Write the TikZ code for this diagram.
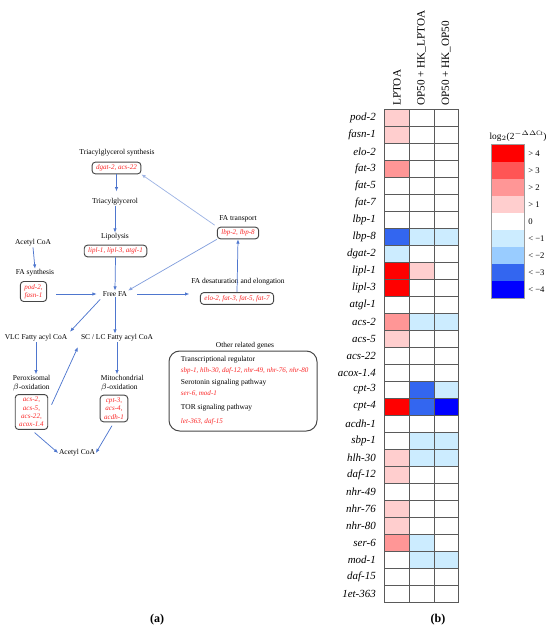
\documentclass[tikz,border=0pt]{standalone}
\usepackage{fontspec}
\setmainfont{Liberation Serif}
\usepackage{tikz}
\usetikzlibrary{positioning, arrows.meta}

\definecolor{arrblue}{RGB}{78,118,206}
\definecolor{boxgray}{RGB}{70,70,70}
\definecolor{gridgray}{RGB}{90,90,90}
\definecolor{genered}{RGB}{250,40,40}
\definecolor{hp4}{RGB}{255,0,0}
\definecolor{hp3}{RGB}{255,85,85}
\definecolor{hp2}{RGB}{255,150,150}
\definecolor{hp1}{RGB}{255,206,206}
\definecolor{hz}{RGB}{255,255,255}
\definecolor{hn1}{RGB}{204,236,255}
\definecolor{hn2}{RGB}{153,204,255}
\definecolor{hn3}{RGB}{51,102,240}
\definecolor{hn4}{RGB}{0,0,255}

\begin{document}
\begin{tikzpicture}[x=0.75pt, y=-0.75pt,
    lbl/.style={font=\fontsize{5.6}{6.6}\selectfont, inner sep=0.5pt, align=center},
    genebox/.style={draw=boxgray, line width=0.7pt, rounded corners=2.5pt,
                    align=center, text=genered,
                    font=\fontsize{5.3}{6.2}\selectfont\itshape,
                    inner xsep=3pt, inner ysep=2pt},
    genes/.style={text=genered, font=\fontsize{5.3}{6.2}\selectfont\itshape,
                  inner sep=0.5pt, anchor=west},
    flow/.style={-{Latex[length=3.2pt,width=2.6pt]}, draw=arrblue, line width=0.55pt},
    cell/.style={draw=gridgray, line width=0.5pt, minimum width=18.5pt,
                 minimum height=12.75pt, inner sep=0pt},
    gname/.style={font=\fontsize{8.2}{9.5}\selectfont\itshape, anchor=east, inner sep=0pt},
    colhead/.style={font=\fontsize{8.4}{9.5}\selectfont, rotate=90, anchor=west, inner sep=0pt},
    key/.style={minimum width=24pt, minimum height=12.75pt, inner sep=0pt},
    keylbl/.style={font=\fontsize{6.5}{7.5}\selectfont, anchor=west, inner sep=0pt},
    panel/.style={font=\fontsize{9}{10}\selectfont\bfseries, inner sep=0pt},
]
\useasboundingbox (0,0) rectangle (550,632);

% --- (a) Pathway nodes ---
\node[lbl] (tgsyn) at (117,153) {Triacylglycerol synthesis};
\node[genebox] (tgbox) at (116.5,168) {dgat-2, acs-22};
\node[lbl] (tg) at (115,202) {Triacylglycerol};
\node[lbl] (lipo) at (115,237) {Lipolysis};
\node[genebox] (lipbox) at (115.5,251) {lipl-1, lipl-3, atgl-1};
\node[lbl] (acoa1) at (33,243) {Acetyl CoA};
\node[lbl] (fasyn) at (35,273) {FA synthesis};
\node[genebox] (fasbox) at (33.5,291.5) {pod-2,\\fasn-1};
\node[lbl] (ffa) at (115,294) {Free FA};
\node[lbl] (fatr) at (238,219) {FA transport};
\node[genebox] (lbpbox) at (238,233) {lbp-2, lbp-8};
\node[lbl] (fades) at (238,282) {FA desaturation and elongation};
\node[genebox] (elobox) at (237,298.5) {elo-2, fat-3, fat-5, fat-7};
\node[lbl] (vlc) at (36,338) {VLC Fatty acyl CoA};
\node[lbl] (sclc) at (117,338) {SC / LC Fatty acyl CoA};
\node[lbl, align=left, anchor=west] (perox) at (12,383)
    {Peroxisomal\\$\beta$-oxidation};
\node[genebox] (perbox) at (31.5,412) {acs-2,\\acs-5,\\acs-22,\\acox-1.4};
\node[lbl, align=left, anchor=west] (mito) at (100,383)
    {Mitochondrial\\$\beta$-oxidation};
\node[genebox] (mitbox) at (114,408.5) {cpt-3,\\acs-4,\\acdh-1};
\node[lbl] (acoa2) at (77,453) {Acetyl CoA};

% --- Other related genes ---
\node[lbl] (othert) at (245,346) {Other related genes};
\node[draw=boxgray, line width=0.75pt, rounded corners=8pt,
      minimum width=111pt, minimum height=60pt] (other) at (243,391) {};
\node[lbl, anchor=west] (treg) at (180,360) {Transcriptional regulator};
\node[genes] (tregg) at (180,371) {sbp-1, hlh-30, daf-12, nhr-49, nhr-76, nhr-80};
\node[lbl, anchor=west] (sero) at (180,383) {Serotonin signaling pathway};
\node[genes] (serog) at (180,394) {ser-6, mod-1};
\node[lbl, anchor=west] (tor) at (180,408) {TOR signaling pathway};
\node[genes] (torg) at (180,422) {let-363, daf-15};

% --- Arrows ---
\draw[flow] (tgbox.south) -- ++(0,17);
\draw[flow] (tg.south) -- (lipo.north);
\draw[flow] (lipbox.south) -- (ffa.north);
\draw[flow] (acoa1.south) -- (fasyn.north);
\draw[flow, shorten <=7pt, shorten >=4pt] (fasbox.east |- ffa.west) -- (ffa.west);
\draw[flow, shorten <=7pt, shorten >=8pt] (ffa.east) -- (elobox.west |- ffa.east);
\draw[flow] (elobox.north) -- (lbpbox.south);
\draw[flow, draw=arrblue!70] (lbpbox.south west) -- (ffa.north east);
\draw[flow, draw=arrblue!55, shorten <=2pt] (lbpbox.north west) -- (tgbox.south east);
\draw[flow, shorten <=2pt, shorten >=2pt] (ffa.south west) -- (vlc.north east);
\draw[flow] (ffa.south) -- (ffa.south |- sclc.north);
\draw[flow] (vlc.south) -- (vlc.south |- perox.north);
\draw[flow] (sclc.south) -- (sclc.south |- mito.north);
\draw[flow, shorten <=6pt, shorten >=4pt] (perbox.east) -- (sclc.south west);
\draw[flow, shorten <=3pt] (perbox.south) -- (acoa2.west);
\draw[flow, shorten <=3pt] (mitbox.south) -- (acoa2.east);

% --- (b) Heatmap ---
\node[colhead] (h1) at (397,106) {LPTOA};
\node[colhead] (h2) at (421.5,106) {OP50 + HK\_LPTOA};
\node[colhead] (h3) at (446,106) {OP50 + HK\_OP50};
\foreach \g/\ca/\cb/\cc [count=\i from 0] in {
    pod-2/hp1/hz/hz, fasn-1/hp1/hz/hz, elo-2/hz/hz/hz, fat-3/hp2/hz/hz,
    fat-5/hz/hz/hz, fat-7/hz/hz/hz, lbp-1/hz/hz/hz, lbp-8/hn3/hn1/hn1,
    dgat-2/hn1/hz/hz, lipl-1/hp4/hp1/hz, lipl-3/hp4/hz/hz, atgl-1/hz/hz/hz,
    acs-2/hp2/hn1/hn1, acs-5/hp1/hz/hz, acs-22/hz/hz/hz, acox-1.4/hz/hz/hz,
    cpt-3/hz/hn3/hn1, cpt-4/hp4/hn3/hn4, acdh-1/hz/hz/hz, sbp-1/hz/hn1/hn1,
    hlh-30/hp1/hn1/hn1, daf-12/hp1/hz/hz, nhr-49/hz/hz/hz, nhr-76/hp1/hz/hz,
    nhr-80/hp1/hz/hz, ser-6/hp2/hn1/hz, mod-1/hz/hn1/hn1, daf-15/hz/hz/hz,
    1et-363/hz/hz/hz}
{
    \node[gname] (g\i) at (376,117.5+17*\i) {\g};
    \node[cell, fill=\ca] (c\i-1) at (396.8,117.5+17*\i) {};
    \node[cell, fill=\cb] (c\i-2) at (421.5,117.5+17*\i) {};
    \node[cell, fill=\cc] (c\i-3) at (446.2,117.5+17*\i) {};
}

% --- Legend ---
\node[font=\fontsize{7}{8}\selectfont, inner sep=0pt] (ktitle) at (518,136)
    {log$_2$(2$^{-\Delta\Delta\mathrm{Ct}}$)};
\foreach \c/\t [count=\k from 0] in {hp4/{> 4}, hp3/{> 3}, hp2/{> 2},
    hp1/{> 1}, hz/{0}, hn1/{< −1}, hn2/{< −2}, hn3/{< −3}, hn4/{< −4}}
{
    \node[key, fill=\c] (k\k) at (508,153.5+17*\k) {};
    \node[keylbl] (kl\k) at (528,153.5+17*\k) {\t};
}
\draw[gridgray!60, line width=0.4pt] (k0.north west) rectangle (k8.south east);

% --- Panel labels ---
\node[panel] (pa) at (157,620) {(a)};
\node[panel] (pb) at (438,620) {(b)};
\end{tikzpicture}
\end{document}
